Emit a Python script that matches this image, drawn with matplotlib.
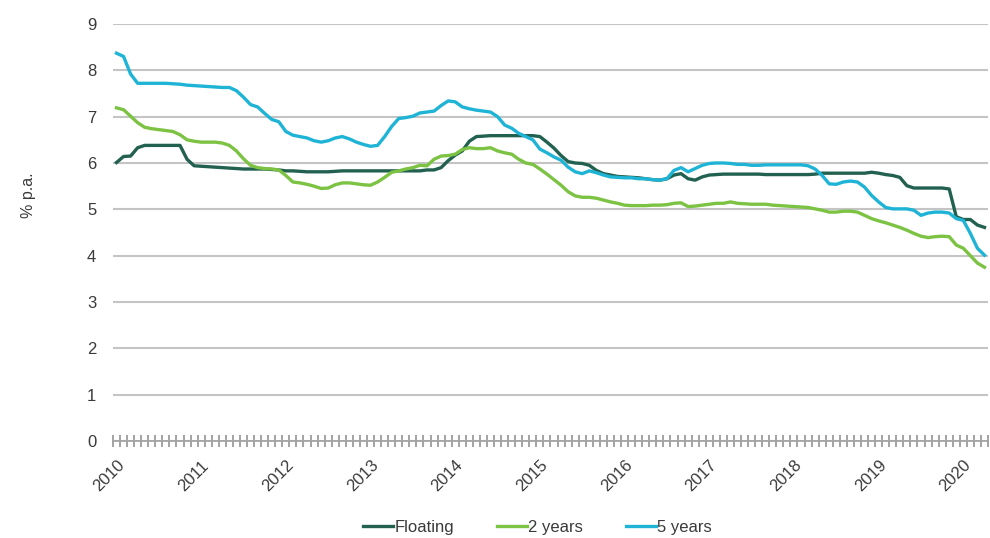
import numpy as np
import matplotlib
matplotlib.use("Agg")
import matplotlib.pyplot as plt

plt.rcParams['font.family'] = ['Liberation Sans', 'DejaVu Sans']

# Monthly mortgage rates, Jan 2010 - Apr 2020 (% p.a.)
years = ['2010', '2011', '2012', '2013', '2014', '2015', '2016', '2017', '2018', '2019', '2020']

floating = [
    6.01, 6.14, 6.15, 6.33, 6.38, 6.38, 6.38, 6.38, 6.38, 6.38,
    6.08, 5.94, 5.93, 5.92, 5.91, 5.90, 5.89, 5.88, 5.87, 5.87,
    5.87, 5.87, 5.86, 5.85, 5.83, 5.83, 5.82, 5.81, 5.81, 5.81,
    5.81, 5.82, 5.83, 5.83, 5.83, 5.83, 5.83, 5.83, 5.83, 5.83,
    5.83, 5.83, 5.83, 5.83, 5.85, 5.85, 5.90, 6.05, 6.17, 6.26,
    6.47, 6.57, 6.58, 6.59, 6.59, 6.59, 6.59, 6.59, 6.59, 6.59,
    6.57, 6.45, 6.32, 6.16, 6.03, 6.00, 5.99, 5.95, 5.84, 5.77,
    5.74, 5.71, 5.70, 5.69, 5.68, 5.66, 5.64, 5.63, 5.66, 5.74,
    5.77, 5.66, 5.63, 5.70, 5.74, 5.75, 5.76, 5.76, 5.76, 5.76,
    5.76, 5.76, 5.75, 5.75, 5.75, 5.75, 5.75, 5.75, 5.75, 5.76,
    5.78, 5.78, 5.78, 5.78, 5.78, 5.78, 5.78, 5.80, 5.78, 5.75,
    5.73, 5.69, 5.51, 5.46, 5.46, 5.46, 5.46, 5.46, 5.44, 4.84,
    4.78, 4.78, 4.66, 4.61,
]

two_years = [
    7.19, 7.15, 7.01, 6.87, 6.77, 6.74, 6.72, 6.70, 6.68, 6.61,
    6.50, 6.47, 6.45, 6.45, 6.45, 6.43, 6.38, 6.26, 6.09, 5.95,
    5.90, 5.88, 5.87, 5.85, 5.73, 5.59, 5.57, 5.54, 5.50, 5.45,
    5.46, 5.53, 5.57, 5.57, 5.55, 5.53, 5.52, 5.59, 5.69, 5.80,
    5.83, 5.87, 5.90, 5.95, 5.94, 6.08, 6.15, 6.16, 6.19, 6.29,
    6.33, 6.31, 6.31, 6.33, 6.26, 6.22, 6.19, 6.08, 6.00, 5.97,
    5.87, 5.76, 5.64, 5.52, 5.38, 5.29, 5.26, 5.26, 5.24, 5.20,
    5.16, 5.13, 5.09, 5.08, 5.08, 5.08, 5.09, 5.09, 5.10, 5.13,
    5.14, 5.06, 5.07, 5.09, 5.11, 5.13, 5.13, 5.16, 5.13, 5.12,
    5.11, 5.11, 5.11, 5.09, 5.08, 5.07, 5.06, 5.05, 5.04, 5.01,
    4.98, 4.94, 4.94, 4.96, 4.96, 4.94, 4.87, 4.80, 4.75, 4.71,
    4.66, 4.61, 4.55, 4.48, 4.42, 4.39, 4.41, 4.42, 4.41, 4.23,
    4.16, 4.00, 3.84, 3.75,
]

five_years = [
    8.37, 8.30, 7.92, 7.72, 7.72, 7.72, 7.72, 7.72, 7.71, 7.70,
    7.68, 7.67, 7.66, 7.65, 7.64, 7.63, 7.63, 7.56, 7.42, 7.26,
    7.21, 7.07, 6.94, 6.89, 6.68, 6.60, 6.57, 6.54, 6.48, 6.45,
    6.48, 6.54, 6.57, 6.52, 6.45, 6.40, 6.36, 6.38, 6.57, 6.79,
    6.96, 6.98, 7.01, 7.08, 7.10, 7.12, 7.24, 7.34, 7.32, 7.21,
    7.17, 7.14, 7.12, 7.10, 7.00, 6.82, 6.75, 6.64, 6.57, 6.50,
    6.30, 6.22, 6.13, 6.06, 5.91, 5.81, 5.77, 5.83, 5.79, 5.74,
    5.70, 5.69, 5.68, 5.68, 5.66, 5.66, 5.64, 5.63, 5.66, 5.84,
    5.90, 5.81, 5.88, 5.95, 5.99, 6.00, 6.00, 5.99, 5.97, 5.97,
    5.95, 5.95, 5.96, 5.96, 5.96, 5.96, 5.96, 5.96, 5.94, 5.87,
    5.73, 5.55, 5.54, 5.59, 5.61, 5.59, 5.48, 5.30, 5.16, 5.04,
    5.01, 5.01, 5.01, 4.98, 4.87, 4.92, 4.94, 4.94, 4.92, 4.80,
    4.76, 4.48, 4.16, 4.01,
]

series_names = ['Floating', '2 years', '5 years']
colors = ['#22614f', '#7cc243', '#1fb4d6']

n = len(floating)
x = np.arange(n)

fig = plt.figure(figsize=(9.9, 5.38), dpi=100)
ax = fig.add_axes([0.1141, 0.1803, 0.998 - 0.1141, 0.9554 - 0.1803])

for vals, name, c in zip([floating, two_years, five_years], series_names, colors):
    ax.plot(x, vals, color=c, lw=2.4, label=name, solid_joinstyle='round')

ax.set_xlim(-0.5, n - 0.5)
ax.set_ylim(0, 9)
ax.set_yticks(range(0, 10))
ax.yaxis.grid(True, color='#c4c4c4', lw=1.5)
ax.set_axisbelow(True)
for side in ['left', 'right', 'top']:
    ax.spines[side].set_visible(False)
ax.spines['bottom'].set_color('#a0a0a0')
ax.spines['bottom'].set_linewidth(1.2)

ax.tick_params(axis='y', length=0, pad=12, labelsize=12, labelcolor='#3a3a3a')

# monthly tick marks across the category axis, year labels every 12 months
ax.set_xticks(np.arange(-0.5, n, 1.0), minor=True)
ax.set_xticks(np.arange(0, n, 12))
ax.set_xticklabels(years, rotation=45, ha='right', rotation_mode='anchor')
ax.tick_params(axis='x', which='major', length=0, pad=12, labelsize=12, labelcolor='#3a3a3a')
ax.tick_params(axis='x', which='minor', direction='inout', length=9, width=1.1, color='#8a8a8a')

ax.set_ylabel('% p.a.', fontsize=11.5, color='#3a3a3a', labelpad=0)
ax.yaxis.set_label_coords(-0.088, 0.59)

fig.legend(loc='lower center', bbox_to_anchor=(0.543, -0.022), ncol=3, frameon=False,
           fontsize=12, handlelength=1.8, handletextpad=0.05, columnspacing=2.6,
           labelcolor='#3a3a3a')

fig.savefig('out.png', dpi=100)
